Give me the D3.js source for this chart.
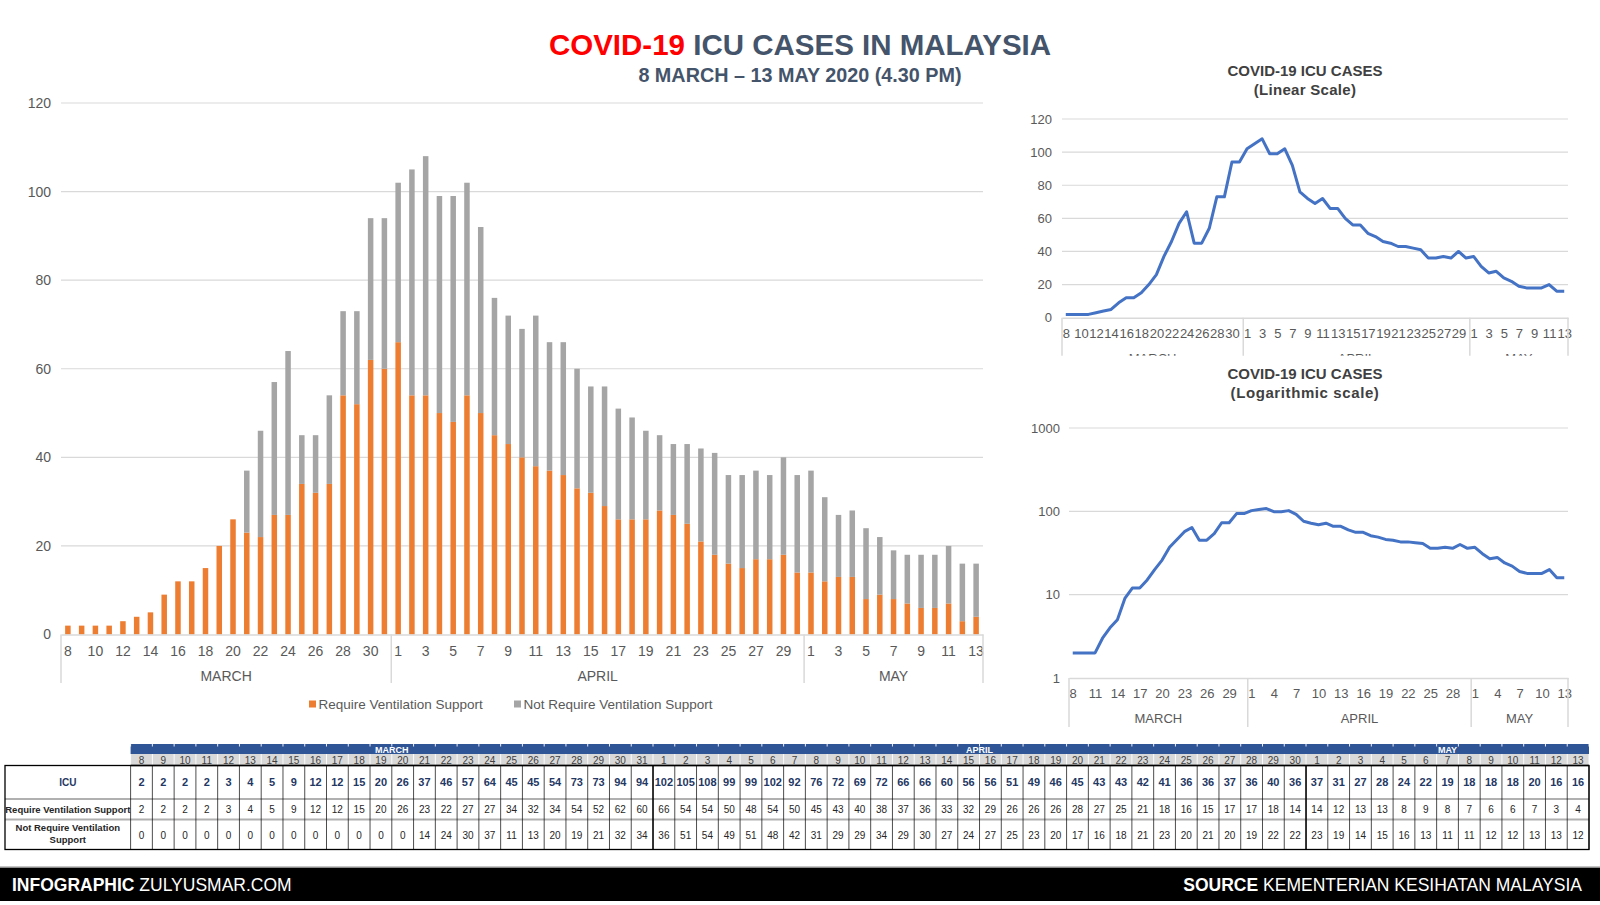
<!DOCTYPE html>
<html><head><meta charset="utf-8">
<script src="https://cdn.jsdelivr.net/npm/d3@7"></script>
<style>
body{margin:0;background:#fff}
svg{display:block}
text{font-family:"Liberation Sans",Arial,sans-serif}
.narrow{font-family:"Liberation Sans Narrow","Liberation Sans",Arial,sans-serif}
</style>
</head><body><svg id="c" width="1600" height="905"></svg>
<script>
// ---------- DATA ----------
const marchDays=[8,9,10,11,12,13,14,15,16,17,18,19,20,21,22,23,24,25,26,27,28,29,30,31];
const aprilDays=[1,2,3,4,5,6,7,8,9,10,11,12,13,14,15,16,17,18,19,20,21,22,23,24,25,26,27,28,29,30];
const mayDays=[1,2,3,4,5,6,7,8,9,10,11,12,13];
const monthNames=["MARCH","APRIL","MAY"];
const icuCases=[2,2,2,2,3,4,5,9,12,12,15,20,26,37,46,57,64,45,45,54,73,73,94,94,
  102,105,108,99,99,102,92,76,72,69,72,66,66,60,56,56,51,49,46,45,43,43,42,41,36,36,37,36,40,36,
  37,31,27,28,24,22,19,18,18,18,20,16,16];
const ventilation=[2,2,2,2,3,4,5,9,12,12,15,20,26,23,22,27,27,34,32,34,54,52,62,60,
  66,54,54,50,48,54,50,45,43,40,38,37,36,33,32,29,26,26,26,28,27,25,21,18,16,15,17,17,18,14,
  14,12,13,13,8,9,8,7,6,6,7,3,4];
const noVentilation=[0,0,0,0,0,0,0,0,0,0,0,0,0,14,24,30,37,11,13,20,19,21,32,34,
  36,51,54,49,51,48,42,31,29,29,34,29,30,27,24,27,25,23,20,17,16,18,21,23,20,21,20,19,22,22,
  23,19,14,15,16,13,11,11,12,12,13,13,12];
const seriesNames=["Require Ventilation Support","Not Require Ventilation Support"];
const rowLabels=["ICU","Require Ventilation Support","Not Require Ventilation|Support"];
const mainTicks=[0,20,40,60,80,100,120];
const linearTicks=[0,20,40,60,80,100,120];
const logTicks=[1,10,100,1000];

// ---------- BUILD ----------
const monthDays=[marchDays,aprilDays,mayDays];
const cats=[];
monthDays.forEach((arr,mi)=>arr.forEach((d,pi)=>cats.push({key:mi+"-"+d,m:mi,d:d,pos:pi})));
const rows=cats.map((c,i)=>({key:c.key,icu:icuCases[i],vent:ventilation[i],novent:noVentilation[i]}));
const keys=cats.map(c=>c.key);
const dayOf=k=>cats.find(c=>c.key===k).d;

const svg=d3.select("#c");
const GRID="#d9d9d9", LBL="#595959";

// ---------- TITLES ----------
const t=svg.append("text").attr("x",800).attr("y",55).attr("text-anchor","middle")
  .attr("font-size",29.5).attr("font-weight","bold");
t.append("tspan").attr("fill","#ff0000").text("COVID-19 ");
t.append("tspan").attr("fill","#44546a").text("ICU CASES IN MALAYSIA");
svg.append("text").attr("x",800).attr("y",81.5).attr("text-anchor","middle")
  .attr("font-size",19.8).attr("font-weight","bold").attr("fill","#44546a")
  .text("8 MARCH \u2013 13 MAY 2020 (4.30 PM)");

// ---------- MAIN STACKED BAR ----------
const mx=d3.scaleBand().domain(keys).range([61,983]).paddingInner(0.6).paddingOuter(0.3);
const my=d3.scaleLinear().domain([0,120]).range([634.5,103]);
const main=svg.append("g");
main.append("g").selectAll("line").data(mainTicks.filter(v=>v>0)).join("line")
  .attr("x1",61).attr("x2",983).attr("y1",d=>my(d)).attr("y2",d=>my(d))
  .attr("stroke",GRID).attr("stroke-width",1.2);
const yAx=main.append("g").attr("transform","translate(51,0)")
  .call(d3.axisLeft(my).tickValues(mainTicks).tickSize(0).tickPadding(0));
yAx.select(".domain").remove();
yAx.selectAll("text").attr("font-size",14).attr("fill",LBL).attr("font-family","Liberation Sans, Arial, sans-serif");

const stack=d3.stack().keys(["vent","novent"])(rows);
const colors=["#ed7d31","#a5a5a5"];
main.append("g").selectAll("g").data(stack).join("g").attr("fill",(d,i)=>colors[i])
  .selectAll("rect").data(d=>d).join("rect")
  .attr("x",d=>mx(d.data.key)).attr("width",mx.bandwidth())
  .attr("y",d=>my(d[1])).attr("height",d=>my(d[0])-my(d[1]));

const xAx=main.append("g").attr("transform","translate(0,634.5)")
  .call(d3.axisBottom(mx).tickValues(cats.filter(c=>c.pos%2===0).map(c=>c.key))
    .tickFormat(dayOf).tickSize(0).tickPadding(11.5));
xAx.select(".domain").attr("stroke",GRID).attr("stroke-width",1.5);
xAx.selectAll("text").attr("font-size",14).attr("fill",LBL).attr("font-family","Liberation Sans, Arial, sans-serif");

const mb=[];{let s=0;monthDays.forEach((arr,mi)=>{mb.push({mi,i0:s,i1:s+arr.length});s+=arr.length;});}
const mStep=mx.step(), mX0=61;
const sepMain=[0,24,54,67].map(i=>mX0+i*mStep);
main.append("g").selectAll("line").data(sepMain).join("line")
  .attr("x1",d=>d).attr("x2",d=>d).attr("y1",634.5).attr("y2",683)
  .attr("stroke",GRID).attr("stroke-width",1.5);
main.append("g").selectAll("text").data(mb).join("text")
  .attr("x",d=>mX0+(d.i0+d.i1)/2*mStep).attr("y",680.5).attr("text-anchor","middle")
  .attr("font-size",14).attr("fill",LBL).text(d=>monthNames[d.mi]);

// legend
const lg=main.append("g");
const lgx=[309,514];
seriesNames.forEach((s,i)=>{
  lg.append("rect").attr("x",lgx[i]).attr("y",700.5).attr("width",7).attr("height",7).attr("fill",colors[i]);
  lg.append("text").attr("x",lgx[i]+9.5).attr("y",709).attr("font-size",13.5).attr("fill",LBL).text(s);
});

// ---------- RIGHT LINE CHARTS ----------
function lineChart(o){
  const g=svg.append("g");
  g.append("text").attr("x",1305).attr("y",o.ty).attr("text-anchor","middle")
    .attr("font-size",15).attr("font-weight","bold").attr("fill","#404040").text("COVID-19 ICU CASES");
  g.append("text").attr("x",1305).attr("y",o.ty+19).attr("text-anchor","middle")
    .attr("font-size",15).attr("font-weight","bold").attr("fill","#404040")
    .attr("letter-spacing",o.ls||0).text(o.sub);
  const x=d3.scalePoint().domain(keys).range([o.x0,o.x1]).padding(0.5);
  const y=o.log?d3.scaleLog().domain([1,1000]).range([o.yb,o.yt])
               :d3.scaleLinear().domain([0,120]).range([o.yb,o.yt]);
  g.append("g").selectAll("line").data(o.ticks.slice(1)).join("line")
    .attr("x1",o.x0).attr("x2",o.x1).attr("y1",d=>y(d)).attr("y2",d=>y(d))
    .attr("stroke",GRID).attr("stroke-width",1.2);
  const ya=g.append("g").attr("transform",`translate(${o.lx},0)`)
    .call(d3.axisLeft(y).tickValues(o.ticks).tickFormat(d3.format("d")).tickSize(0).tickPadding(0));
  ya.select(".domain").remove();
  ya.selectAll("text").attr("font-size",13).attr("fill",LBL).attr("font-family","Liberation Sans, Arial, sans-serif");
  const clipId="clip"+o.ty;
  g.append("clipPath").attr("id",clipId).append("rect")
    .attr("x",o.x0-20).attr("y",o.yb-2).attr("width",o.x1-o.x0+40).attr("height",o.clipH);
  const ax=g.append("g").attr("clip-path",`url(#${clipId})`);
  const xa=ax.append("g").attr("transform",`translate(0,${o.yb})`)
    .call(d3.axisBottom(x).tickValues(cats.filter(c=>c.pos%o.every===0).map(c=>c.key))
      .tickFormat(dayOf).tickSize(0).tickPadding(o.tp));
  xa.select(".domain").attr("stroke",GRID).attr("stroke-width",1.5);
  xa.selectAll("text").attr("font-size",13).attr("fill",LBL).attr("font-family","Liberation Sans, Arial, sans-serif");
  const st=x.step();
  ax.append("g").selectAll("line").data([0,24,54,67].map(i=>o.x0+i*st)).join("line")
    .attr("x1",d=>d).attr("x2",d=>d).attr("y1",o.yb).attr("y2",o.yb+o.sepH)
    .attr("stroke",GRID).attr("stroke-width",1.5);
  ax.append("g").selectAll("text").data(mb).join("text")
    .attr("x",d=>o.x0+(d.i0+d.i1)/2*st).attr("y",o.yb+o.my).attr("text-anchor","middle")
    .attr("font-size",13).attr("fill",LBL).text(d=>monthNames[d.mi]);
  g.append("path").datum(rows)
    .attr("d",d3.line().x(d=>x(d.key)).y(d=>y(d.icu)))
    .attr("fill","none").attr("stroke","#4472c4").attr("stroke-width",3).attr("stroke-linejoin","round");
}
lineChart({ty:76,sub:"(Linear Scale)",log:false,ticks:linearTicks,x0:1062,x1:1568,yt:119,yb:317.7,lx:1052,
  every:2,tp:11,clipH:40,sepH:40,my:45,ls:0.3});
lineChart({ty:379,sub:"(Logarithmic scale)",log:true,ticks:logTicks,x0:1069,x1:1568,yt:428,yb:678,lx:1060,
  every:3,tp:11,clipH:60,sepH:49,my:45,ls:0.6});

// ---------- TABLE ----------
const tb=svg.append("g").attr("class","narrow");
const tx0=130.6, tx1=1589, cw=(tx1-tx0)/cats.length;
const ry=[744,754,765.5,799,819.5,849.5];
// navy header
tb.append("rect").attr("x",tx0).attr("y",ry[0]).attr("width",tx1-tx0).attr("height",ry[1]-ry[0]).attr("fill","#2f5597");
tb.append("g").selectAll("line").data(d3.range(cats.length+1)).join("line")
  .attr("x1",i=>tx0+i*cw).attr("x2",i=>tx0+i*cw).attr("y1",ry[0]).attr("y2",ry[0]+2.5)
  .attr("stroke","#ffffff").attr("stroke-width",0.9);
tb.append("g").selectAll("text").data(mb).join("text")
  .attr("class","narrow").attr("x",d=>tx0+(d.i0+d.i1)/2*cw).attr("y",752.5).attr("text-anchor","middle")
  .attr("font-size",9).attr("font-weight","bold").attr("fill","#fff").text(d=>monthNames[d.mi]);
// day row
tb.append("rect").attr("x",tx0).attr("y",ry[1]).attr("width",tx1-tx0).attr("height",ry[2]-ry[1]).attr("fill","#d9d9d9");
tb.append("g").selectAll("line").data(d3.range(cats.length+1)).join("line")
  .attr("x1",i=>tx0+i*cw).attr("x2",i=>tx0+i*cw).attr("y1",ry[1]).attr("y2",ry[2])
  .attr("stroke","#ffffff").attr("stroke-width",0.9);
tb.append("g").selectAll("text").data(cats).join("text")
  .attr("class","narrow").attr("x",(c,i)=>tx0+(i+0.5)*cw).attr("y",763.5).attr("text-anchor","middle")
  .attr("font-size",10).attr("fill","#404040").text(c=>c.d);
// body cells
const bodyVals=[icuCases,ventilation,noVentilation];
bodyVals.forEach((arr,r)=>{
  tb.append("g").selectAll("text").data(arr).join("text")
    .attr("class","narrow").attr("x",(v,i)=>tx0+(i+0.5)*cw)
    .attr("y",(ry[r+2]+ry[r+3])/2+4).attr("text-anchor","middle")
    .attr("font-size",r===0?11:10).attr("font-weight",r===0?"bold":"normal")
    .attr("fill",r===0?"#1f3864":"#262626").text(v=>v);
});
// row separators
[ry[3],ry[4]].forEach(yv=>{
  tb.append("line").attr("x1",5).attr("x2",tx1).attr("y1",yv).attr("y2",yv).attr("stroke","#b0b0b0").attr("stroke-width",2);
});
// vertical cell lines
tb.append("g").selectAll("line").data(d3.range(cats.length+1)).join("line")
  .attr("x1",i=>tx0+i*cw).attr("x2",i=>tx0+i*cw).attr("y1",ry[2]).attr("y2",ry[5])
  .attr("stroke","#000").attr("stroke-width",i=>(i===24||i===54)?1.6:0.7);
// outer borders
tb.append("rect").attr("x",5).attr("y",ry[2]).attr("width",tx1-5).attr("height",ry[5]-ry[2])
  .attr("fill","none").attr("stroke","#000").attr("stroke-width",1.3);
tb.append("line").attr("x1",tx0).attr("x2",tx1).attr("y1",ry[2]).attr("y2",ry[2]).attr("stroke","#000").attr("stroke-width",1.5);
// row labels
const labelY=[786,813,[831,843]];
rowLabels.forEach((l,r)=>{
  const parts=l.split("|");
  parts.forEach((p,j)=>{
    const yy=parts.length>1?labelY[r][j]:labelY[r];
    tb.append("text").attr("class","narrow").attr("x",67.8).attr("y",yy).attr("text-anchor","middle")
      .attr("font-size",r===0?10:9.5).attr("font-weight","bold").attr("fill",r===0?"#1f3864":"#262626").text(p);
  });
});

// ---------- FOOTER ----------
svg.append("rect").attr("x",0).attr("y",866.5).attr("width",1600).attr("height",1.5).attr("fill","#8c8c8c");
svg.append("rect").attr("x",0).attr("y",868).attr("width",1600).attr("height",33).attr("fill","#000");
const f1=svg.append("text").attr("x",12).attr("y",891).attr("font-size",17.5).attr("fill","#fff");
f1.append("tspan").attr("font-weight","bold").text("INFOGRAPHIC");
f1.append("tspan").text(" ZULYUSMAR.COM");
const f2=svg.append("text").attr("x",1582).attr("y",891).attr("font-size",17.5).attr("fill","#fff").attr("text-anchor","end");
f2.append("tspan").attr("font-weight","bold").text("SOURCE");
f2.append("tspan").text(" KEMENTERIAN KESIHATAN MALAYSIA");
</script>
</body></html>
